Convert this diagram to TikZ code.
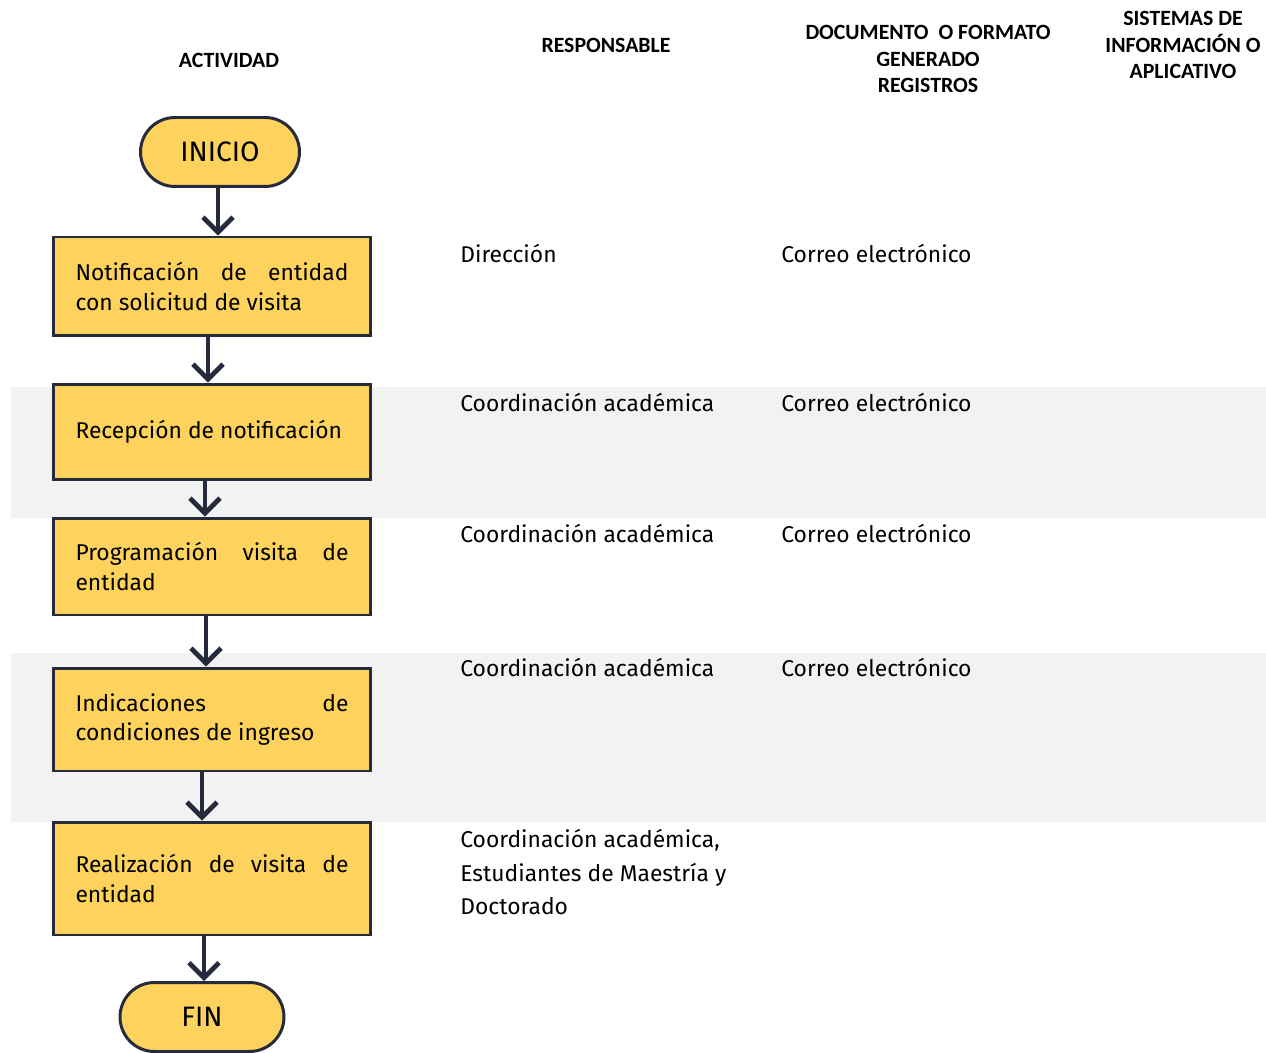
\documentclass[tikz,border=0pt]{standalone}
\usepackage{fontspec}
\setmainfont{Fira Sans}
\newfontfamily\headfont{Carlito}
\usetikzlibrary{arrows.meta}
\definecolor{boxfill}{HTML}{FED35D}
\definecolor{edge}{HTML}{252A3C}
\definecolor{band}{HTML}{F2F2F2}

\begin{document}
\begin{tikzpicture}[x=0.02cm,y=-0.02cm,
  act/.style={draw=edge,line width=1.7pt,fill=boxfill,text width=5.46cm,inner xsep=0.45cm,
    align=justify,font=\fontsize{13}{16.7}\selectfont},
  term/.style={draw=edge,line width=1.7pt,fill=boxfill,rounded corners=0.69cm,
    minimum width=3.18cm,minimum height=1.38cm,font=\fontsize{16}{19}\selectfont},
  flow/.style={draw=edge,line width=2.7pt,-{Straight Barb[length=0.3cm,width=0.6cm]}},
  head/.style={font=\headfont\bfseries\fontsize{12.4}{15.3}\selectfont,align=center},
  cell/.style={anchor=west,align=left,inner xsep=0pt,font=\fontsize{13}{19.3}\selectfont}]
\useasboundingbox (0,0) rectangle (1266,1053);
\fill[band] (11,387) rectangle (1266,518);
\fill[band] (11,653) rectangle (1266,822);

% encabezados
\node[head] (h1) at (229,60) {ACTIVIDAD};
\node[head] (h2) at (606,45) {RESPONSABLE};
\node[head] (h3) at (928,59) {DOCUMENTO\ \ O FORMATO\\GENERADO\\REGISTROS};
\node[head] (h4) at (1183,45) {SISTEMAS DE\\INFORMACIÓN O\\APLICATIVO};

% actividades
\node[term] (ini) at (220,152) {INICIO};
\node[act,minimum height=1.98cm] (b1) at (212,286.5) {Notificación de entidad\linebreak con solicitud de visita};
\node[act,minimum height=1.92cm] (b2) at (212,432) {Recepción de notificación};
\node[act,minimum height=1.94cm] (b3) at (212,566.5) {Programación visita de\linebreak entidad};
\node[act,minimum height=2.06cm] (b4) at (212,719.5) {Indicaciones de\linebreak condiciones de ingreso};
\node[act,minimum height=2.26cm] (b5) at (212,878.5) {Realización de visita de\linebreak entidad};
\node[term,minimum width=3.28cm] (fin) at (202,1017) {FIN};

\draw[flow] ([xshift=-0.04cm]ini.south) -- ([xshift=-0.04cm]ini.south |- b1.north);
\draw[flow] ([xshift=-0.08cm]b1.south) -- ([xshift=-0.08cm]b2.north);
\draw[flow] ([xshift=-0.14cm]b2.south) -- ([xshift=-0.14cm]b3.north);
\draw[flow] ([xshift=-0.12cm]b3.south) -- ([xshift=-0.12cm]b4.north);
\draw[flow] ([xshift=-0.2cm]b4.south) -- ([xshift=-0.2cm]b5.north);
\draw[flow] ([xshift=0.04cm]b5.south -| fin.north) -- ([xshift=0.04cm]fin.north);

% responsables
\node[cell] (r1) at (460,253) {Dirección};
\node[cell] (r2) at (460,402) {Coordinación académica};
\node[cell] (r3) at (460,533) {Coordinación académica};
\node[cell] (r4) at (460,667) {Coordinación académica};
\node[cell] (r5) at (460,872) {Coordinación académica,\\Estudiantes de Maestría y\\Doctorado};

% documentos
\node[cell] (d1) at (781,253) {Correo electrónico};
\node[cell] (d2) at (781,402) {Correo electrónico};
\node[cell] (d3) at (781,533) {Correo electrónico};
\node[cell] (d4) at (781,667) {Correo electrónico};
\end{tikzpicture}
\end{document}
